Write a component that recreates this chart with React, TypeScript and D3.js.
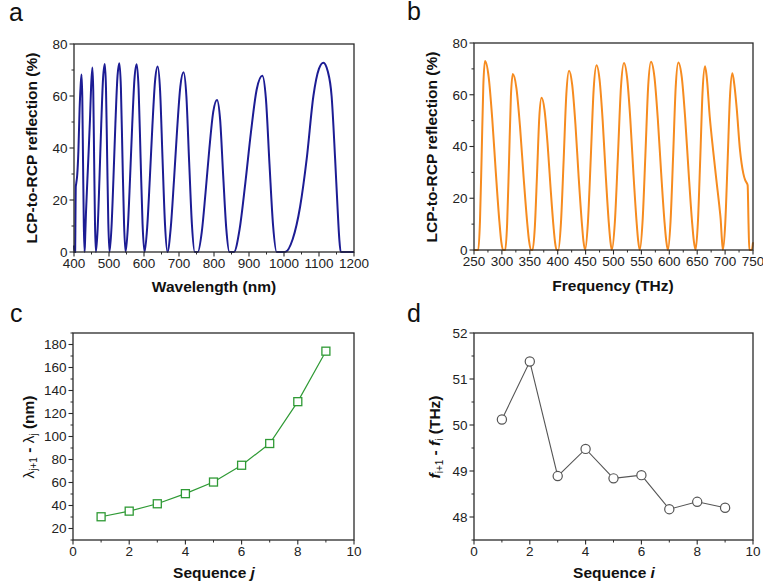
import * as d3 from 'd3';

// LCP-to-RCP reflection spectrum vs wavelength (nm, %)
const wavelengthSpectrum: [number, number][] = [
  [400, 2.5], [401, 0], [403.3, 0], [404.2, 14], [405, 25], [406.5, 26.5], [409.2, 29.6], [412.5, 38.6], [416, 55], [419, 64], [421.5, 68.3], [423.7, 59.4], [425.9, 34], [428.1, 10], [430.3, 0],
  [432, 6], [434.2, 15], [438, 27], [441.8, 38.6], [445.8, 51.5], [449, 64], [452.5, 71], [455, 62], [457.5, 36], [460, 11], [462.5, 0],
  [467.6, 9], [472.7, 28], [477.8, 49], [482.9, 66.5], [488, 72.3], [491.4, 63], [494.8, 36], [498.1, 11], [501.5, 0],
  [507.1, 9.4], [512.7, 28.3], [518.3, 49.4], [523.9, 66.8], [529.5, 72.6], [534, 63.2], [538.5, 36.3], [543, 10.9], [547.5, 0],
  [553.8, 9.4], [560.1, 28.2], [566.4, 49.1], [572.7, 66.4], [579, 72.2], [584.6, 62.8], [590.3, 36.1], [595.9, 10.8], [601.5, 0],
  [609, 9.3], [616.5, 27.8], [624, 48.5], [631.5, 65.6], [639, 71.3], [646, 62], [653, 35.7], [660, 10.7], [667, 0],
  [676.2, 9], [685.4, 27], [694.6, 47], [703.8, 63.6], [713, 69.1], [721, 60.1], [729, 34.6], [737, 10.4], [745, 0], [754, 0],
  [765, 7.6], [775.8, 22.8], [786.8, 39.8], [797.7, 53.8], [808.6, 58.5], [817.5, 50.9], [826.3, 29.3], [835.2, 8.8], [844, 0], [857, 0],
  [873.2, 8.8], [889.4, 26.4], [905.6, 46.1], [921.8, 62.4], [938, 67.8], [948.3, 59], [958.5, 33.9], [968.8, 10.2], [979, 0], [1003, 0],
  [1025, 5], [1046, 17.4], [1065, 36], [1084, 60], [1100, 70.5], [1112.4, 72.8], [1125, 69.5], [1136, 60], [1146, 36], [1153, 17], [1158, 5], [1162, 0], [1200, 0],
];

// same spectrum vs frequency (THz, %)
const frequencySpectrum: [number, number][] = [
  [250, 0], [257.7, 0], [260.7, 11], [263.7, 36.5], [266.7, 63.5], [269.7, 73], [276.2, 67], [282.6, 51], [289.1, 30], [295.5, 11], [299, 3], [302, 0], [306, 0],
  [309.4, 10.2], [312.75, 34], [316.1, 59.2], [319.5, 68], [326, 62.6], [332.5, 47.6], [339, 27.9], [345.5, 10.2], [348.75, 3.4], [352, 0], [355, 0],
  [359, 8.8], [363, 29.4], [367, 51.2], [371, 58.8], [376.4, 54.1], [381.8, 41.2], [387.2, 24.1], [392.6, 8.8], [395.3, 2.9], [398, 0], [401, 0],
  [405.8, 10.4], [410.65, 34.7], [415.5, 60.3], [420.3, 69.3], [426, 63.8], [431.8, 48.5], [437.5, 28.4], [443.3, 10.4], [446.1, 3.5], [449, 0],
  [454.15, 10.7], [459.3, 35.7], [464.45, 62.1], [469.6, 71.4], [475.1, 65.7], [480.6, 50], [486, 29.3], [491.5, 10.7], [494.3, 3.6], [497, 0],
  [502.45, 10.8], [507.9, 36.2], [513.35, 62.9], [518.8, 72.3], [524.4, 66.5], [530.1, 50.6], [535.7, 29.6], [541.4, 10.8], [544.2, 3.6], [547, 0],
  [552.05, 10.9], [557.1, 36.4], [562.15, 63.3], [567.2, 72.8], [573.3, 67], [579.3, 51], [585.4, 29.8], [591.4, 10.9], [594.5, 3.6], [597.5, 0],
  [602.2, 10.9], [606.85, 36.3], [611.5, 63.1], [616.2, 72.5], [622.4, 66.7], [628.5, 50.8], [634.7, 29.7], [640.8, 10.9], [643.9, 3.6], [647, 0],
  [651.25, 10.7], [655.5, 35.5], [659.75, 61.8], [664, 71], [667, 67], [672.5, 51.5], [678.5, 38.6], [684.4, 27], [690.4, 15.5], [692, 12], [694, 5], [696, 0],
  [700.25, 10.2], [704.5, 34.2], [708.75, 59.4], [713, 68.3], [716.5, 64], [720.7, 55], [726.7, 38.6], [732.6, 29.6], [736, 27], [738.6, 26], [740.4, 25], [742, 10], [743.4, 0], [747.7, 0], [750, 3],
];

const sequence = [1, 2, 3, 4, 5, 6, 7, 8, 9];
const wavelengthGap = [30.2, 35.1, 41.5, 50.3, 60.4, 75, 93.9, 130.3, 174.2];
const frequencyGap = [50.12, 51.38, 48.89, 49.48, 48.84, 48.91, 48.17, 48.33, 48.2];

const wavelengthTicks = [400, 500, 600, 700, 800, 900, 1000, 1100, 1200];
const frequencyTicks = [250, 300, 350, 400, 450, 500, 550, 600, 650, 700, 750];
const reflectionTicks = [0, 20, 40, 60, 80];
const sequenceTicks = [0, 2, 4, 6, 8, 10];
const nmGapTicks = [20, 40, 60, 80, 100, 120, 140, 160, 180];
const thzGapTicks = [48, 49, 50, 51, 52];

const FONT = '"Liberation Sans", Arial, Helvetica, sans-serif';
const AXIS = '#2a2a2a';

type Scale = d3.ScaleLinear<number, number>;

const mids = (t: number[]) => t.slice(1).map((v, i) => (v + t[i]) / 2);

function Frame({ x, y, xTicks, yTicks, yMinor }: { x: Scale; y: Scale; xTicks: number[]; yTicks: number[]; yMinor?: number[] }) {
  const [x0, x1] = x.range();
  const [y0, y1] = y.range();
  const xm = mids(xTicks);
  const ym = yMinor ?? mids(yTicks);
  return (
    <g fontFamily={FONT} fontSize={13.5} fill="#222">
      <rect x={x0} y={y1} width={x1 - x0} height={y0 - y1} fill="none" stroke={AXIS} strokeWidth={1.3} />
      {xTicks.map((v) => (
        <g key={'x' + v} transform={`translate(${x(v)},${y0})`}>
          <line y2={4.5} stroke={AXIS} strokeWidth={1.1} />
          <text y={15.5} textAnchor="middle">{v}</text>
        </g>
      ))}
      {xm.map((v) => (
        <line key={'xm' + v} x1={x(v)} x2={x(v)} y1={y0} y2={y0 + 2.5} stroke={AXIS} strokeWidth={1} />
      ))}
      {yTicks.map((v) => (
        <g key={'y' + v} transform={`translate(${x0},${y(v)})`}>
          <line x2={-4.5} stroke={AXIS} strokeWidth={1.1} />
          <text x={-6.5} dy="0.36em" textAnchor="end">{v}</text>
        </g>
      ))}
      {ym.map((v) => (
        <line key={'ym' + v} y1={y(v)} y2={y(v)} x1={x0} x2={x0 - 2.5} stroke={AXIS} strokeWidth={1} />
      ))}
    </g>
  );
}

function Letter({ x, y, t }: { x: number; y: number; t: string }) {
  return (
    <text x={x} y={y} fontFamily={FONT} fontSize={25} fill="#111">{t}</text>
  );
}

export default function App() {
  const xa = d3.scaleLinear().domain([400, 1200]).range([74, 354]);
  const ya = d3.scaleLinear().domain([0, 80]).range([252, 44]);
  const xb = d3.scaleLinear().domain([250, 750]).range([474, 753]);
  const yb = d3.scaleLinear().domain([0, 80]).range([250, 43]);
  const xc = d3.scaleLinear().domain([0, 10]).range([73, 354]);
  const yc = d3.scaleLinear().domain([10, 190]).range([540, 333]);
  const xd = d3.scaleLinear().domain([0, 10]).range([474, 753]);
  const yd = d3.scaleLinear().domain([47.5, 52]).range([540, 333]);

  const specA = d3.line<[number, number]>().x((d) => xa(d[0])).y((d) => ya(d[1])).curve(d3.curveMonotoneX);
  const specB = d3.line<[number, number]>().x((d) => xb(d[0])).y((d) => yb(d[1])).curve(d3.curveMonotoneX);
  const lineC = d3.line<number>().x((_, i) => xc(sequence[i])).y((d) => yc(d));
  const lineD = d3.line<number>().x((_, i) => xd(sequence[i])).y((d) => yd(d));

  const title = { fontFamily: FONT, fontSize: 15.5, fontWeight: 700, fill: '#111' } as const;

  return (
    <svg width={763} height={587} style={{ position: 'absolute', left: 0, top: 0, background: '#fff' }}>
      <rect width={763} height={587} fill="#fff" />

      {/* a */}
      <Letter x={9} y={21} t="a" />
      <path d={specA(wavelengthSpectrum) ?? ''} fill="none" stroke="#1c1c94" strokeWidth={2} />
      <Frame x={xa} y={ya} xTicks={wavelengthTicks} yTicks={reflectionTicks} />
      <text {...title} x={214} y={292} textAnchor="middle">Wavelength (nm)</text>
      <text {...title} transform="translate(37,148) rotate(-90)" textAnchor="middle">LCP-to-RCP reflection (%)</text>

      {/* b */}
      <Letter x={407} y={20} t="b" />
      <path d={specB(frequencySpectrum) ?? ''} fill="none" stroke="#f68b1f" strokeWidth={2} />
      <Frame x={xb} y={yb} xTicks={frequencyTicks} yTicks={reflectionTicks} />
      <text {...title} x={613} y={291} textAnchor="middle">Frequency (THz)</text>
      <text {...title} transform="translate(437,147) rotate(-90)" textAnchor="middle">LCP-to-RCP reflection (%)</text>

      {/* c */}
      <Letter x={10} y={322} t="c" />
      <Frame x={xc} y={yc} xTicks={sequenceTicks} yTicks={nmGapTicks} yMinor={d3.range(10, 191, 20)} />
      <path d={lineC(wavelengthGap) ?? ''} fill="none" stroke="#2f9a35" strokeWidth={1.2} />
      {wavelengthGap.map((v, i) => (
        <rect key={i} x={xc(sequence[i]) - 4} y={yc(v) - 4} width={8} height={8} fill="#fff" stroke="#2f9a35" strokeWidth={1.3} />
      ))}
      <text {...title} x={214} y={578} textAnchor="middle">
        Sequence <tspan fontStyle="italic">j</tspan>
      </text>
      <text {...title} transform="translate(34,437) rotate(-90)" textAnchor="middle">
        <tspan fontWeight={400}>λ</tspan>
        <tspan fontWeight={400} fontSize={10} dy={3}>j+1</tspan>
        <tspan dy={-3}> - </tspan>
        <tspan fontWeight={400}>λ</tspan>
        <tspan fontWeight={400} fontSize={10} dy={3}>j</tspan>
        <tspan dy={-3}> (nm)</tspan>
      </text>

      {/* d */}
      <Letter x={407} y={322} t="d" />
      <Frame x={xd} y={yd} xTicks={sequenceTicks} yTicks={thzGapTicks} yMinor={d3.range(47.5, 52, 1)} />
      <path d={lineD(frequencyGap) ?? ''} fill="none" stroke="#555" strokeWidth={1.1} />
      {frequencyGap.map((v, i) => (
        <circle key={i} cx={xd(sequence[i])} cy={yd(v)} r={4.6} fill="#fff" stroke="#555" strokeWidth={1.2} />
      ))}
      <text {...title} x={614} y={578} textAnchor="middle">
        Sequence <tspan fontStyle="italic">i</tspan>
      </text>
      <text {...title} transform="translate(440,437) rotate(-90)" textAnchor="middle">
        <tspan fontStyle="italic">f</tspan>
        <tspan fontWeight={400} fontSize={10} dy={3}>i+1</tspan>
        <tspan dy={-3}> - </tspan>
        <tspan fontStyle="italic">f</tspan>
        <tspan fontWeight={400} fontSize={10} dy={3}>i</tspan>
        <tspan dy={-3}> (THz)</tspan>
      </text>
    </svg>
  );
}
